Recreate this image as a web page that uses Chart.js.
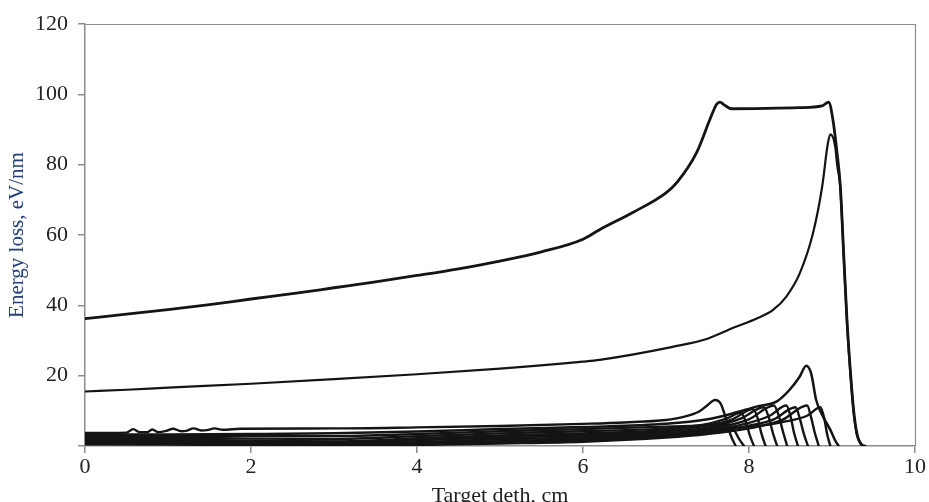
<!DOCTYPE html>
<html>
<head>
<meta charset="utf-8">
<script src="https://cdn.jsdelivr.net/npm/chart.js@4.4.1/dist/chart.umd.min.js"></script>
<style>
  html, body { margin: 0; padding: 0; background: #fff; }
  #wrap { width: 929px; height: 502px; }
</style>
</head>
<body>
<div id="wrap"><canvas id="c" width="929" height="502"></canvas></div>
<script>
// ---- data ----
const xTicks = [0, 2, 4, 6, 8, 10];
const yTicks = [0, 20, 40, 60, 80, 100, 120];
const yTickLabels = ['', '20', '40', '60', '80', '100', '120'];

const topDepth = [0, 0.5, 1, 1.5, 2, 2.5, 3, 3.5, 4, 4.5, 5, 5.5, 6, 6.2, 6.6, 7.0, 7.13, 7.37, 7.53, 7.61, 7.65, 7.7, 7.79, 8.2, 8.6, 8.88, 8.96, 9.01, 9.06, 9.10, 9.14, 9.18, 9.22, 9.26, 9.30, 9.36, 9.4];
const topLoss  = [36.2, 37.5, 38.8, 40.2, 41.8, 43.3, 45.0, 46.7, 48.5, 50.4, 52.6, 55.2, 58.8, 61.5, 66.4, 72.0, 74.9, 83.5, 92.9, 97.2, 97.8, 97.0, 95.9, 96.0, 96.2, 96.7, 97.8, 92.9, 83.5, 74.0, 55.0, 36.0, 21.7, 10.3, 3.6, 0.3, 0];

const secDepth = [0, 0.5, 1, 2, 3, 4, 5, 6, 6.2, 7.08, 7.5, 7.81, 8.1, 8.29, 8.45, 8.61, 8.77, 8.88, 8.95, 8.98, 9.04, 9.06, 9.10, 9.14, 9.18, 9.22, 9.26, 9.30, 9.36];
const secLoss  = [15.5, 16.0, 16.6, 17.7, 19.0, 20.4, 22.0, 24.0, 24.5, 28.2, 30.5, 33.6, 36.3, 38.7, 42.5, 49.0, 60.4, 73.5, 86.0, 88.6, 84.9, 80.3, 73.5, 54.5, 35.5, 21.2, 9.8, 3.2, 0.2];

const c1Depth = [0, 0.5, 0.58, 0.66, 0.75, 0.81, 0.88, 0.98, 1.06, 1.16, 1.22, 1.31, 1.4, 1.47, 1.56, 1.66, 1.87, 3, 4, 5, 6, 6.5, 7, 7.2, 7.4, 7.5, 7.59, 7.66, 7.72, 7.78, 7.84];
const c1Loss  = [3.7, 3.8, 4.8, 3.9, 3.9, 4.7, 3.95, 4.3, 4.9, 4.2, 4.3, 5.0, 4.4, 4.5, 5.0, 4.6, 4.9, 5.0, 5.3, 5.7, 6.3, 6.7, 7.4, 8.2, 9.8, 11.6, 13.1, 12.0, 8.0, 3.0, 0];
const c2Depth = [0, 1, 2, 3, 4, 5, 6, 7, 7.5, 7.81, 8.09, 8.33, 8.49, 8.61, 8.69, 8.75, 8.81, 8.9, 8.98, 9.04, 9.08];
const c2Loss  = [3.3, 3.3, 3.4, 3.6, 4.1, 4.8, 5.4, 6.3, 7.6, 9.3, 11.2, 12.6, 16.0, 19.7, 22.8, 20.5, 13.0, 8.0, 4.6, 1.5, 0];
const c3Depth = [0, 1, 2, 3, 4, 5, 6, 7, 7.4, 7.6, 7.75, 7.82, 7.88, 7.94];
const c3Loss  = [3.0, 2.9, 2.8, 2.8, 3.4, 4.2, 4.8, 5.5, 5.8, 6.0, 6.2, 4.6, 2.0, 0];
const c4Depth = [0, 1, 2, 3, 4, 5, 6, 7, 7.5, 7.75, 7.9, 7.96, 8.01, 8.06];
const c4Loss  = [2.6, 2.4, 2.1, 2.0, 2.8, 3.6, 4.2, 5.0, 6.3, 8.0, 9.5, 7.0, 3.0, 0];
const c5Depth = [0, 1, 2, 3, 4, 5, 6, 7, 7.5, 7.8, 8.05, 8.11, 8.15, 8.2];
const c5Loss  = [2.2, 1.9, 1.5, 1.3, 2.2, 3.0, 3.6, 4.5, 5.8, 7.6, 10.5, 7.5, 3.5, 0];
const c6Depth = [0, 1, 2, 3, 4, 5, 6, 7, 7.5, 7.9, 8.18, 8.24, 8.29, 8.34];
const c6Loss  = [1.8, 1.5, 1.1, 0.8, 1.6, 2.4, 3.0, 4.0, 5.2, 7.8, 11.0, 8.0, 3.5, 0];
const c7Depth = [0, 1, 2, 3, 4, 5, 6, 7, 7.5, 8.0, 8.3, 8.36, 8.41, 8.46];
const c7Loss  = [1.4, 1.1, 0.7, 0.4, 1.1, 1.9, 2.5, 3.6, 4.8, 7.6, 11.5, 8.5, 4.0, 0];
const c8Depth = [0, 1, 2, 3, 4, 5, 6, 7, 7.5, 8.0, 8.25, 8.45, 8.5, 8.54, 8.59];
const c8Loss  = [1.0, 0.8, 0.5, 0.3, 0.7, 1.4, 2.0, 3.2, 4.3, 6.6, 8.6, 11.5, 8.5, 4.0, 0];
const c9Depth = [0, 1, 2, 3, 4, 5, 6, 7, 7.5, 8.0, 8.3, 8.56, 8.61, 8.66, 8.71];
const c9Loss  = [0.7, 0.6, 0.4, 0.3, 0.5, 1.0, 1.6, 2.8, 3.8, 5.8, 7.6, 11.0, 8.0, 3.5, 0];
const c10Depth = [0, 1, 2, 3, 4, 5, 6, 7, 7.5, 8.0, 8.4, 8.7, 8.75, 8.79, 8.84];
const c10Loss  = [0.5, 0.4, 0.3, 0.2, 0.3, 0.7, 1.2, 2.4, 3.4, 5.0, 7.4, 11.5, 8.0, 4.0, 0];
const c11Depth = [0, 1, 2, 3, 4, 5, 6, 7, 7.5, 8.0, 8.4, 8.7, 8.86, 8.91, 8.94, 8.98];
const c11Loss  = [0.9, 1.0, 1.1, 1.2, 1.8, 2.6, 3.2, 4.0, 4.6, 5.4, 6.8, 8.6, 11.0, 7.5, 3.5, 0];

// ---- build datasets ----
function pts(xs, ys) { return xs.map((x, i) => ({ x: x, y: ys[i] })); }
function ds(xs, ys, w) {
  return { data: pts(xs, ys), borderColor: '#141414', borderWidth: w, pointRadius: 0,
           fill: false, cubicInterpolationMode: 'monotone', borderJoinStyle: 'round', borderCapStyle: 'round' };
}
const datasets = [
  ds(topDepth, topLoss, 2.8),
  ds(secDepth, secLoss, 2.2),
  ds(c1Depth, c1Loss, 2.4),
  ds(c2Depth, c2Loss, 2.5),
  ds(c3Depth, c3Loss, 2.4),
  ds(c4Depth, c4Loss, 2.4),
  ds(c5Depth, c5Loss, 2.4),
  ds(c6Depth, c6Loss, 2.4),
  ds(c7Depth, c7Loss, 2.4),
  ds(c8Depth, c8Loss, 2.4),
  ds(c9Depth, c9Loss, 2.4),
  ds(c10Depth, c10Loss, 2.4),
  ds(c11Depth, c11Loss, 2.4)
];

const serif = "'Liberation Serif', 'Times New Roman', serif";
const axisGrey = '#8c8c8c';

const frame = {
  id: 'frame',
  afterDatasetsDraw(chart) {
    const a = chart.chartArea, ctx = chart.ctx;
    ctx.save();
    ctx.strokeStyle = axisGrey;
    ctx.lineWidth = 1.2;
    ctx.beginPath();
    ctx.moveTo(a.left, a.top + 0.5);
    ctx.lineTo(a.right + 0.5, a.top + 0.5);
    ctx.lineTo(a.right + 0.5, a.bottom);
    ctx.stroke();
    ctx.restore();
  }
};

new Chart(document.getElementById('c'), {
  type: 'line',
  data: { datasets: datasets },
  plugins: [frame],
  options: {
    responsive: false,
    animation: false,
    events: [],
    layout: { padding: { top: 24, right: 14, left: 0, bottom: 0 } },
    plugins: { legend: { display: false }, tooltip: { enabled: false } },
    scales: {
      x: {
        type: 'linear', min: 0, max: 10,
        afterBuildTicks: s => { s.ticks = xTicks.map(v => ({ value: v })); },
        afterFit: s => { s.height = 56; },
        grid: { drawOnChartArea: false, drawTicks: true, tickLength: 7, color: axisGrey, lineWidth: 1.5 },
        border: { color: axisGrey, width: 1.5 },
        ticks: { color: '#222', padding: 1, maxRotation: 0, font: { family: serif, size: 22 },
                 callback: v => String(v) },
        title: { display: true, text: 'Target deth, cm', color: '#222', font: { family: serif, size: 22 },
                 padding: { top: 0, bottom: -7 } }
      },
      y: {
        type: 'linear', min: 0, max: 120,
        afterBuildTicks: s => { s.ticks = yTicks.map(v => ({ value: v })); },
        afterFit: s => { s.width = 85; },
        grid: { drawOnChartArea: false, drawTicks: true, tickLength: 7, color: axisGrey, lineWidth: 1.5 },
        border: { color: axisGrey, width: 1.5 },
        ticks: { color: '#222', padding: 10, font: { family: serif, size: 22 },
                 callback: (v) => yTickLabels[yTicks.indexOf(v)] },
        title: { display: true, text: 'Energy loss, eV/nm', color: '#23407a', font: { family: serif, size: 21 },
                 padding: { top: 5, bottom: 0 } }
      }
    }
  }
});
</script>
</body>
</html>
